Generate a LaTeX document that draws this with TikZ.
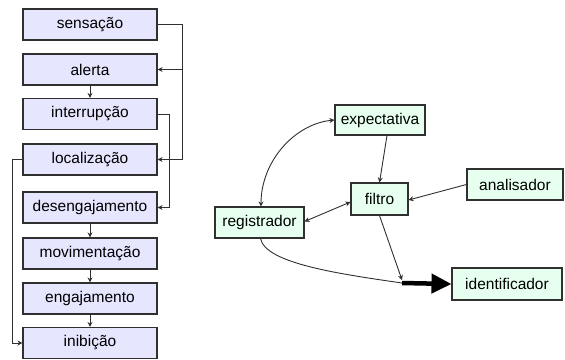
\documentclass[tikz,border=0pt]{standalone}
\usepackage{fontspec}
\setmainfont{Liberation Sans}
\usetikzlibrary{arrows.meta,calc}
\definecolor{lav}{HTML}{E6E6FF}
\definecolor{mint}{HTML}{E6FFEE}
\definecolor{edge}{HTML}{303030}
\begin{document}
\begin{tikzpicture}[x=1pt,y=-1pt,
  font=\fontsize{15.5}{17}\selectfont,
  lbox/.style={draw=edge,line width=1.1pt,fill=lav,minimum width=134pt,minimum height=31pt,inner sep=0pt},
  rbox/.style={draw=edge,line width=1.1pt,fill=mint,minimum height=31pt,inner sep=0pt},
  conn/.style={draw=edge,line width=0.9pt},
  arr/.style={conn,-{Stealth[length=5pt,width=5pt]}},
  darr/.style={conn,{Stealth[length=5pt,width=5pt]}-{Stealth[length=5pt,width=5pt]}}]
\useasboundingbox (0,0) rectangle (565,359);
% left column
\node[lbox] (s1) at (90,24.5) {sensação};
\node[lbox] (s2) at (90,69.5) {alerta};
\node[lbox] (s3) at (90,114) {interrupção};
\node[lbox] (s4) at (90,159.5) {localização};
\node[lbox] (s5) at (90,207.5) {desengajamento};
\node[lbox] (s6) at (90,253.5) {movimentação};
\node[lbox] (s7) at (90,298.5) {engajamento};
\node[lbox] (s8) at (90,343) {inibição};
\draw[arr] (s2) -- (s3);
\draw[arr] (s5) -- (s6);
\draw[arr] (s6) -- (s7);
\draw[arr] (s7) -- (s8);
\coordinate (ra) at (182,24.5);
\coordinate (rb) at (182,69.5);
\coordinate (rc) at (182,159.5);
\draw[conn] (s1.east) -- (ra) -- (rc);
\draw[arr] (rb) -- (s2.east);
\draw[arr] (rc) -- (s4.east);
\coordinate (ia) at (169,114);
\coordinate (ib) at (169,207.5);
\draw[conn] (s3.east) -- (ia) -- (ib);
\draw[arr] (ib) -- (s5.east);
\coordinate (la) at (12,159.5);
\coordinate (lb) at (12,343);
\draw[conn] (s4.west) -- (la) -- (lb);
\draw[arr] (lb) -- (s8.west);
% right diagram
\node[rbox,minimum width=90pt,minimum height=30pt] (ex) at (380,120) {expectativa};
\node[rbox,minimum width=57pt,minimum height=32pt] (fi) at (379.5,199) {filtro};
\node[rbox,minimum width=89pt] (re) at (259.5,222.5) {registrador};
\node[rbox,minimum width=96pt] (an) at (515,184.5) {analisador};
\node[rbox,minimum width=110pt,minimum height=32pt] (id) at (507,284) {identificador};
\draw[darr] (ex.west) .. controls +(-40,4) and +(0,-45) .. ([xshift=1.5pt]re.north);
\draw[arr] ($(ex.south)+(7,0)$) -- (fi.north);
\draw[darr] ($(re.east)+(0,-1)$) -- ($(fi.west)+(0,3)$);
\draw[arr] (an.west) -- ($(fi.east)+(0,1)$);
\coordinate (j) at (402,283);
\draw[arr] (fi.south) -- ($(j)+(0,-3)$);
\draw[conn] ($(re.south)+(1,0)$) .. controls +(5,25) and (340,274) .. (j);
\draw[line width=4.5pt,black,-{Triangle[length=20pt 0,width=19pt 0]}] (j) -- (id.west);
\end{tikzpicture}
\end{document}
